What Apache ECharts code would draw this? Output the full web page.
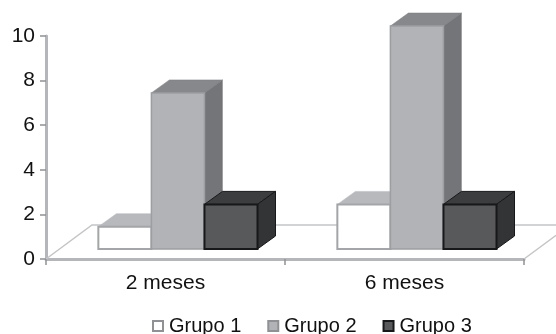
<!DOCTYPE html>
<html><head><meta charset="utf-8">
<style>html,body{margin:0;padding:0;background:#fff}#c{width:556px;height:334px}</style>
<script src="https://cdn.jsdelivr.net/npm/echarts@6/dist/echarts.min.js"></script>
</head><body><div id="c"></div>
<script>
const categories = ['2 meses', '6 meses'];
const grupo1 = [1, 2];
const grupo2 = [7, 10];
const grupo3 = [2, 2];
const yTicks = { min: 0, max: 10, interval: 2 };
const FONT = '"Liberation Sans", Arial, sans-serif';

const chart = echarts.init(document.getElementById('c'), null, { renderer: 'canvas' });

function bar3d(k, pal) {
  return function (params, api) {
    const i = api.value(0), v = api.value(1);
    const band = api.size([1, 0])[0];
    const w = band * 0.222, lift = 10, dx = 18, dy = 13;
    const p0 = api.coord([i, 0]), p1 = api.coord([i, v]);
    const x = p0[0] + band * 0.052 + (k - 1.5) * w;
    const yb = p0[1] - lift, yt = p1[1] - lift;
    return { type: 'group', children: [
      { type: 'polygon', shape: { points: [[x, yt], [x + dx, yt - dy], [x + w + dx, yt - dy], [x + w, yt]] },
        style: { fill: pal.top, stroke: pal.edge2, lineWidth: pal.lw2 } },
      { type: 'polygon', shape: { points: [[x + w, yt], [x + w + dx, yt - dy], [x + w + dx, yb - dy], [x + w, yb]] },
        style: { fill: pal.side, stroke: pal.edge2, lineWidth: pal.lw2 } },
      { type: 'rect', shape: { x: x, y: yt, width: w, height: yb - yt },
        style: { fill: pal.front, stroke: pal.edge, lineWidth: pal.lw } }
    ] };
  };
}
function floor(params) {
  const c = params.coordSys, b = c.y + c.height, r = c.x + c.width;
  const s = { stroke: '#c4c5c7', lineWidth: 1.5, fill: 'none' };
  return { type: 'group', children: [
    { type: 'polyline', shape: { points: [[c.x, b], [c.x + 46, b - 34], [r + 46, b - 34], [r, b]] }, style: s }
  ] };
}
const pal = [
  { front: '#ffffff', top: '#b7b9bc', side: '#b7b9bc', edge: '#a3a5a8', edge2: '#b7b9bc', lw: 2, lw2: 0.5 },
  { front: '#b1b3b6', top: '#87888c', side: '#737578', edge: '#9c9ea1', edge2: '#7d7e82', lw: 1.5, lw2: 0.5 },
  { front: '#58595b', top: '#3c3d3f', side: '#333436', edge: '#17181a', edge2: '#17181a', lw: 2, lw2: 1 }
];
const names = ['Grupo 1', 'Grupo 2', 'Grupo 3'];
const legendStyle = [
  { color: '#ffffff', borderColor: '#8f9194', borderWidth: 2 },
  { color: '#b1b3b6', borderColor: '#8f9194', borderWidth: 2 },
  { color: '#58595b', borderColor: '#17181a', borderWidth: 2 }
];
const values = [grupo1, grupo2, grupo3];

chart.setOption({
  animation: false,
  backgroundColor: '#fff',
  grid: { left: 46, top: 36, width: 478, height: 223, containLabel: false },
  legend: {
    left: 152, top: 316, itemWidth: 10, itemHeight: 10, itemGap: 26, padding: 0, selectedMode: false,
    textStyle: { fontFamily: FONT, fontSize: 20, color: '#111', padding: [0, 0, 0, 1] },
    data: names.map((n, k) => ({ name: n, icon: 'rect', itemStyle: legendStyle[k] }))
  },
  xAxis: {
    type: 'category', data: categories,
    axisLine: { lineStyle: { color: '#b4b6b9', width: 3 } },
    axisTick: { show: true, length: 6, lineStyle: { color: '#8f9194', width: 1.5 } },
    axisLabel: { fontFamily: FONT, fontSize: 21, color: '#111', margin: 14 }
  },
  yAxis: {
    type: 'value', min: yTicks.min, max: yTicks.max, interval: yTicks.interval,
    splitLine: { show: false },
    axisLine: { show: true, lineStyle: { color: '#b4b6b9', width: 3 } },
    axisTick: { show: true, length: 6, lineStyle: { color: '#8f9194', width: 1.5 } },
    axisLabel: { fontFamily: FONT, fontSize: 21, color: '#111', margin: 11, padding: [6, 0, 0, 0] }
  },
  series: [
    { type: 'custom', name: 'floor', z: 1, silent: true, clip: false, renderItem: floor, data: [[0, 0]] }
  ].concat(names.map((n, k) => ({
    type: 'custom', name: n, z: 2 + k, clip: false,
    renderItem: bar3d(k, pal[k]),
    itemStyle: { color: legendStyle[k].color },
    encode: { x: 0, y: 1 },
    data: values[k].map((v, i) => [i, v])
  })))
});
</script></body></html>
